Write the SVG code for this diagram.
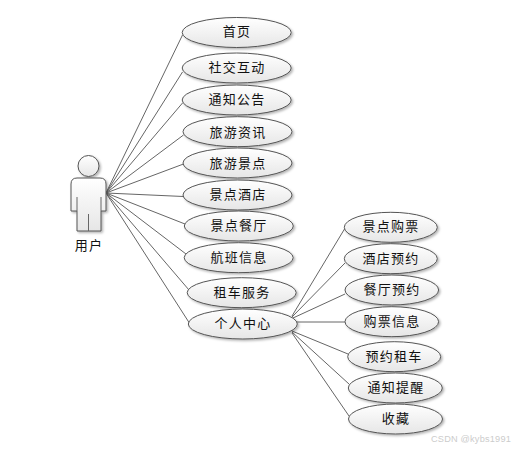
<svg xmlns="http://www.w3.org/2000/svg" width="514" height="450" viewBox="0 0 514 450">
<style>
text{font-family:"Noto Sans CJK SC","Liberation Sans",sans-serif;font-size:13px;fill:#111;text-anchor:middle;letter-spacing:1.300px}
.u{fill:url(#g);stroke:#555;stroke-width:1;filter:url(#s)}
.l{stroke:#666;stroke-width:1;fill:none}
</style>
<defs>
<linearGradient id="g" x1="0" y1="0" x2="0" y2="1"><stop offset="0" stop-color="#fff"/><stop offset="1" stop-color="#e6e6e6"/></linearGradient>
<filter id="s" x="-10%" y="-20%" width="125%" height="150%"><feDropShadow dx="1.5" dy="1.5" stdDeviation="1" flood-color="#000" flood-opacity="0.3"/></filter>
</defs>
<rect width="514" height="450" fill="#fff"/>
<g id="connectors" class="l">
<path d="M106 193L182.500 35"/><path d="M106 193L182.500 72"/><path d="M106 193L182.500 103"/><path d="M106 193L183.500 135"/><path d="M106 193L183.500 164"/><path d="M106 193L183.500 196.500"/><path d="M106 193L185 224"/><path d="M106 193L186 254"/><path d="M106 193L189 290"/><path d="M106 193L190 324"/>
<path d="M292 316L344.500 229"/><path d="M292 317L345 263"/><path d="M293 318L345 294"/><path d="M297 322L345 322"/><path d="M292 331L348 354"/><path d="M292 332L349 384"/><path d="M292 333L349 416"/>
</g>
<g id="actor">
<circle class="u" cx="88.500" cy="166" r="10.500"/>
<path class="u" d="M71 184Q71 178 77 178H100Q106 178 106 184V211H101V231H77V211H71Z"/>
<path class="l" d="M77 197V211M101 197V211M88.500 214V231"/>
<text x="89" y="250">用户</text>
</g>
<g id="u1"><ellipse class="u" cx="236.700" cy="32.500" rx="54.500" ry="15"/><text x="237" y="36">首页</text></g>
<g id="u2"><ellipse class="u" cx="236.700" cy="68" rx="54.500" ry="15"/><text x="237" y="72">社交互动</text></g>
<g id="u3"><ellipse class="u" cx="236.700" cy="100" rx="54.500" ry="15"/><text x="237" y="104">通知公告</text></g>
<g id="u4"><ellipse class="u" cx="237.500" cy="131.700" rx="54.500" ry="15"/><text x="238" y="137">旅游资讯</text></g>
<g id="u5"><ellipse class="u" cx="237.500" cy="163" rx="54.500" ry="15"/><text x="238" y="168">旅游景点</text></g>
<g id="u6"><ellipse class="u" cx="237.500" cy="195" rx="54.500" ry="15"/><text x="238" y="199">景点酒店</text></g>
<g id="u7"><ellipse class="u" cx="238.800" cy="226" rx="54.500" ry="15"/><text x="239" y="230">景点餐厅</text></g>
<g id="u8"><ellipse class="u" cx="238.700" cy="257.700" rx="54.500" ry="15"/><text x="239" y="262">航班信息</text></g>
<g id="u9"><ellipse class="u" cx="241.700" cy="292.700" rx="54.500" ry="15"/><text x="242" y="297">租车服务</text></g>
<g id="u10"><ellipse class="u" cx="242.800" cy="324" rx="54.500" ry="15"/><text x="243" y="328">个人中心</text></g>
<g id="u11"><ellipse class="u" cx="390.800" cy="227.300" rx="46.500" ry="15"/><text x="391" y="231">景点购票</text></g>
<g id="u12"><ellipse class="u" cx="390.800" cy="258.700" rx="46.500" ry="15"/><text x="391" y="263">酒店预约</text></g>
<g id="u13"><ellipse class="u" cx="391.800" cy="290" rx="46.800" ry="15"/><text x="392" y="294">餐厅预约</text></g>
<g id="u14"><ellipse class="u" cx="391.800" cy="321.700" rx="46.800" ry="15"/><text x="392" y="326">购票信息</text></g>
<g id="u15"><ellipse class="u" cx="394.200" cy="356.700" rx="46.500" ry="15"/><text x="394" y="361">预约租车</text></g>
<g id="u16"><ellipse class="u" cx="395.300" cy="388" rx="47" ry="15"/><text x="396" y="392">通知提醒</text></g>
<g id="u17"><ellipse class="u" cx="395.500" cy="419" rx="47" ry="15"/><text x="396" y="423">收藏</text></g>
<text x="471" y="442" style="font-family:'Liberation Sans',sans-serif;font-size:9.200px;fill:#ccc;letter-spacing:0.200px">CSDN @kybs1991</text>
</svg>
